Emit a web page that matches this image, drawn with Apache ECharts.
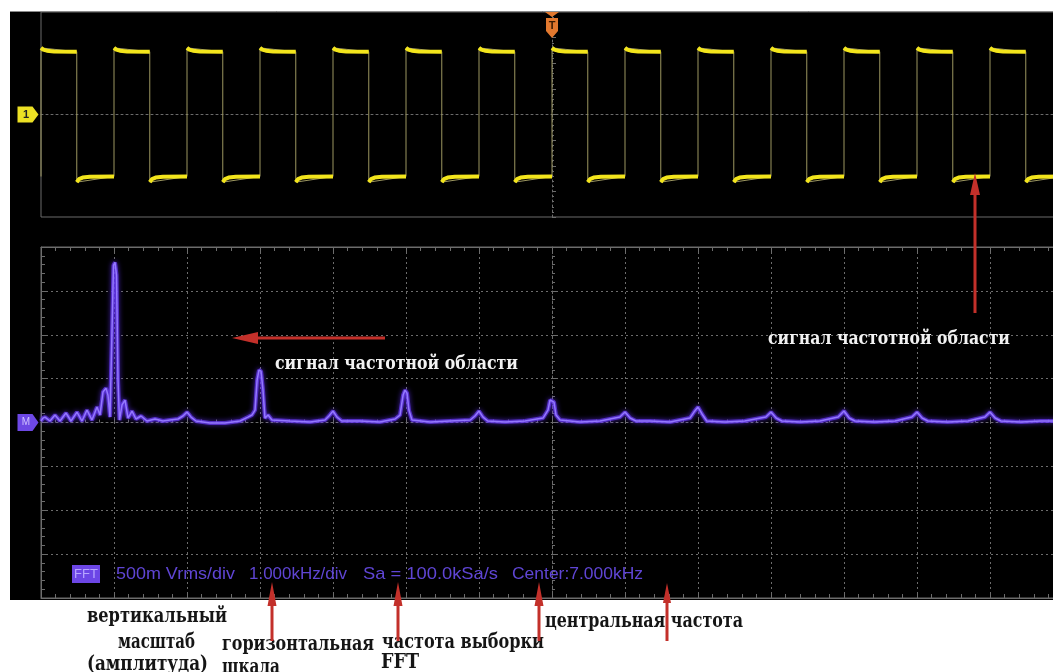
<!DOCTYPE html>
<html>
<head>
<meta charset="utf-8">
<script src="https://cdn.jsdelivr.net/npm/echarts@6/dist/echarts.min.js"></script>
<style>
html,body{margin:0;padding:0;background:#fff;overflow:hidden;}
#chart{width:1075px;height:672px;}
</style>
</head>
<body>
<div id="chart"></div>
<script>
// ---------- DATA ----------
// Channel 1 (time domain), x in divisions (trigger at 0), y in divisions
const risingEdges = [-7, -6, -5, -4, -3, -2, -1, 0, 1, 2, 3, 4, 5, 6, 7];
const fallingEdges = [-6.51, -5.51, -4.51, -3.51, -2.51, -1.51, -0.51, 0.49, 1.49, 2.49, 3.49, 4.49, 5.49, 6.49];
// plateau shape (offset after edge, level)
const highOffsets = [0, 0.03, 0.08, 0.18, 0.49];
const highLevels  = [2.60, 2.53, 2.49, 2.46, 2.45];
const lowOffsets  = [0, 0.03, 0.08, 0.18, 0.51];
const lowLevels   = [-2.64, -2.52, -2.46, -2.43, -2.42];

// FFT trace: frequency (kHz) and magnitude (Vrms)
const fftFreq = [0.000,0.027,0.055,0.123,0.192,0.260,0.342,0.411,0.493,0.562,0.630,0.699,0.767,0.808,0.849,0.890,0.918,0.945,0.973,0.993,1.014,1.034,1.055,1.075,1.110,1.151,1.192,1.247,1.301,1.370,1.452,1.562,1.671,1.767,1.877,1.945,2.000,2.055,2.123,2.315,2.520,2.726,2.836,2.890,2.932,2.960,2.986,3.014,3.041,3.068,3.110,3.164,3.410,3.685,3.890,3.945,4.000,4.055,4.120,4.370,4.640,4.850,4.918,4.960,4.986,5.014,5.040,5.082,5.330,5.600,5.880,5.945,6.000,6.055,6.120,6.356,6.630,6.877,6.945,6.973,7.000,7.027,7.055,7.110,7.384,7.658,7.930,8.000,8.070,8.150,8.340,8.616,8.890,8.945,9.000,9.055,9.120,9.370,9.640,9.930,10.000,10.070,10.150,10.400,10.670,10.920,11.000,11.070,11.150,11.420,11.700,11.930,12.000,12.070,12.150,12.420,12.700,12.930,13.000,13.070,13.150,13.420,13.700,14.000];
const fftMag  = [0.017,0.050,0.062,0.017,0.085,0.017,0.108,0.017,0.119,0.017,0.142,0.028,0.176,0.085,0.347,0.392,0.310,0.062,1.050,1.790,1.824,1.680,0.480,0.028,0.200,0.256,0.050,0.130,0.040,0.074,0.017,0.040,0.017,0.028,0.040,0.074,0.119,0.062,0.017,-0.006,-0.006,0.017,0.062,0.085,0.142,0.480,0.597,0.585,0.370,0.050,0.085,0.028,0.017,0.006,0.028,0.074,0.131,0.062,0.017,0.017,0.006,0.040,0.085,0.312,0.369,0.335,0.142,0.028,0.006,0.017,0.028,0.074,0.131,0.062,0.017,0.006,0.017,0.051,0.142,0.256,0.278,0.233,0.085,0.028,0.006,0.017,0.062,0.119,0.051,0.017,0.017,0.006,0.051,0.119,0.176,0.097,0.017,0.006,0.017,0.062,0.119,0.051,0.017,0.006,0.017,0.062,0.131,0.051,0.017,0.006,0.017,0.062,0.119,0.051,0.017,0.006,0.017,0.062,0.119,0.051,0.017,0.006,0.017,0.017];

// texts
const infoTexts = ['500m Vrms/div', '1.000kHz/div', 'Sa = 100.0kSa/s', 'Center:7.000kHz'];
const signalLabel = 'сигнал частотной области';
const bottomLabels = ['вертикальный', 'масштаб', '(амплитуда)', 'горизонтальная', 'шкала', 'частота выборки', 'FFT', 'центральная частота'];

// ---------- BUILD ----------
const edgeData = [];
const plateauData = [];
for (let i = 0; i < risingEdges.length; i++) {
  const r = risingEdges[i];
  const f = fallingEdges[i];
  const nextR = risingEdges[i + 1];
  edgeData.push([r, lowLevels[lowLevels.length - 1]]);
  edgeData.push([r, highLevels[0]]);
  if (f === undefined) break;
  edgeData.push([f, highLevels[highLevels.length - 1]]);
  edgeData.push([f, lowLevels[0]]);
  for (let k = 0; k < highOffsets.length; k++) plateauData.push([r + highOffsets[k], highLevels[k]]);
  plateauData.push([f, '-']);
  for (let k = 0; k < lowOffsets.length; k++) plateauData.push([f + lowOffsets[k], lowLevels[k]]);
  plateauData.push([nextR, '-']);
}
plateauData.push([7, highLevels[0]]);
const fftData = fftFreq.map((f, i) => [f, fftMag[i]]);

const gridGrey = '#6c6c6c';
const dotted = { color: gridGrey, type: [2, 3], width: 1 };

const chart = echarts.init(document.getElementById('chart'), null, { renderer: 'canvas' });

const hidden = { show: false };
const panelTicks = {
  axisLabel: hidden,
  axisTick: { show: true, inside: true, length: 5, lineStyle: { color: gridGrey } },
  minorTick: { show: true, splitNumber: 5, length: 4, lineStyle: { color: gridGrey } },
  axisLine: { show: true, onZero: false, lineStyle: { color: gridGrey } }
};

const redArrow = '#c3302a';
function vArrow(x, tipY, endY, headLen, headW) {
  return [
    { type: 'line', shape: { x1: x, y1: tipY + headLen - 2, x2: x, y2: endY }, style: { stroke: redArrow, lineWidth: 3 }, z: 100 },
    { type: 'polygon', shape: { points: [[x, tipY], [x - headW / 2, tipY + headLen], [x + headW / 2, tipY + headLen]] }, style: { fill: redArrow }, z: 100 }
  ];
}
const measureCtx = document.createElement('canvas').getContext('2d');
// text placed at (x, y) and stretched horizontally to span `targetWidth`
function label(text, x, y, fill, font, targetWidth, sy) {
  measureCtx.font = font;
  const w = measureCtx.measureText(text).width || targetWidth;
  return { type: 'text', x: x, y: y, scaleX: targetWidth / w, scaleY: sy, z: 60,
    style: { text: text, x: 0, y: 0, fill: fill, font: font, verticalAlign: 'middle' } };
}
const serifBold = 'bold 17px "DejaVu Serif", "Liberation Serif", serif';
const whiteFont = 'bold 15px "DejaVu Serif", "Liberation Serif", serif';
const infoFont = '17px "Liberation Sans", Arial, sans-serif';
const infoColor = '#5f45d4';
const ink = '#151515';

const option = {
  backgroundColor: '#000',
  animation: false,
  grid: [
    { left: 41, top: 12, width: 1022, height: 205, show: true, borderColor: '#6a6a6a', borderWidth: 1, backgroundColor: 'transparent' },
    { left: 41, top: 247, width: 1022, height: 351, show: true, borderColor: '#6a6a6a', borderWidth: 1, backgroundColor: 'transparent' },
    { left: 41, top: 247, width: 1022, height: 351, show: false }
  ],
  xAxis: [
    { gridIndex: 0, type: 'value', min: -7, max: 7, interval: 1,
      axisLabel: hidden, splitLine: hidden,
      axisLine: { show: true, onZero: true, lineStyle: dotted },
      axisTick: { show: false }, minorTick: { show: false } },
    Object.assign({ gridIndex: 1, type: 'value', min: 0, max: 14, interval: 1, position: 'bottom',
      splitLine: { show: true, lineStyle: dotted } }, panelTicks),
    Object.assign({ gridIndex: 1, type: 'value', min: 0, max: 14, interval: 1, position: 'top',
      splitLine: hidden }, panelTicks),
    { gridIndex: 2, type: 'value', min: -7, max: 7, interval: 1,
      axisLabel: hidden, splitLine: hidden,
      axisLine: { show: true, onZero: true, lineStyle: dotted },
      axisTick: { show: true, inside: true, length: 4, lineStyle: { color: gridGrey } },
      minorTick: { show: true, splitNumber: 5, length: 3, lineStyle: { color: gridGrey } } }
  ],
  yAxis: [
    { gridIndex: 0, type: 'value', min: -4, max: 4, interval: 1,
      axisLabel: hidden, splitLine: hidden,
      axisLine: { show: true, onZero: true, lineStyle: dotted },
      axisTick: { show: true, inside: true, length: 4, lineStyle: { color: gridGrey } },
      minorTick: { show: true, splitNumber: 5, length: 2, lineStyle: { color: gridGrey } } },
    Object.assign({ gridIndex: 1, type: 'value', min: -2, max: 2, interval: 0.5, position: 'left',
      splitLine: { show: true, lineStyle: dotted } }, panelTicks),
    { gridIndex: 2, type: 'value', min: -4, max: 4, interval: 1,
      axisLabel: hidden, splitLine: hidden,
      axisLine: { show: true, onZero: true, lineStyle: dotted },
      axisTick: { show: true, inside: true, length: 4, lineStyle: { color: gridGrey } },
      minorTick: { show: true, splitNumber: 5, length: 3, lineStyle: { color: gridGrey } } }
  ],
  series: [
    { type: 'line', xAxisIndex: 0, yAxisIndex: 0, data: edgeData, symbol: 'none', silent: true,
      lineStyle: { color: '#9c9660', width: 1 }, z: 3 },
    { type: 'line', xAxisIndex: 0, yAxisIndex: 0, data: plateauData, symbol: 'none', silent: true,
      connectNulls: false, smooth: false,
      lineStyle: { color: '#f3e51c', width: 4, cap: 'butt' }, z: 4,
      markPoint: {
        silent: true,
        data: [
          { coord: [-7, 0], symbol: 'path://M0,0 L15,0 L21,8 L15,16 L0,16 Z', symbolSize: [21, 16], symbolOffset: [-13, 0],
            itemStyle: { color: '#ece024' },
            label: { show: true, formatter: '1', color: '#222', fontSize: 11, fontWeight: 'bold', offset: [-2, 0] } },
          { coord: [0, 4], symbol: 'path://M0,0 L14,0 L7,5 Z M1,6 L13,6 L13,19 L7,26 L1,19 Z', symbolSize: [14, 26], symbolOffset: [0, 13],
            itemStyle: { color: '#e2782e' },
            label: { show: true, formatter: 'T', color: '#3a1a00', fontSize: 11, fontWeight: 'bold', offset: [0, 1] } }
        ]
      } },
    { type: 'line', xAxisIndex: 1, yAxisIndex: 1, data: fftData, symbol: 'none', silent: true,
      lineStyle: { color: 'rgba(105,60,245,0.7)', width: 4, shadowColor: 'rgba(100,50,255,0.9)', shadowBlur: 5 }, z: 3 },
    { type: 'line', xAxisIndex: 1, yAxisIndex: 1, data: fftData, symbol: 'none', silent: true,
      lineStyle: { color: '#9478ff', width: 1.5 }, z: 4,
      markPoint: {
        silent: true,
        data: [
          { coord: [0, 0], symbol: 'path://M0,0 L15,0 L21,8 L15,16 L0,16 Z', symbolSize: [21, 17], symbolOffset: [-13, 0],
            itemStyle: { color: '#6d48e4' },
            label: { show: true, formatter: 'M', color: '#cfc2ff', fontSize: 10, offset: [-2, 0] } }
        ]
      } }
  ],
  graphic: [
    // white page margins around the scope screen
    { type: 'rect', shape: { x: 0, y: 0, width: 1075, height: 11 }, style: { fill: '#fff' }, z: 50 },
    { type: 'rect', shape: { x: 0, y: 0, width: 10, height: 672 }, style: { fill: '#fff' }, z: 50 },
    { type: 'rect', shape: { x: 0, y: 600, width: 1075, height: 72 }, style: { fill: '#fff' }, z: 50 },
    { type: 'line', shape: { x1: 10, y1: 11.5, x2: 1075, y2: 11.5 }, style: { stroke: '#8a8a8a', lineWidth: 1 }, z: 51 },
    // FFT info line
    { type: 'rect', shape: { x: 72, y: 565, width: 28, height: 18 }, style: { fill: '#6c46e6' }, z: 60 },
    { type: 'text', style: { text: 'FFT', x: 86, y: 574, fill: '#b7a6ff', font: '13px "Liberation Sans", Arial, sans-serif', align: 'center', verticalAlign: 'middle' }, z: 61 },
    label(infoTexts[0], 116, 574, infoColor, infoFont, 119, 1),
    label(infoTexts[1], 249, 574, infoColor, infoFont, 98, 1),
    label(infoTexts[2], 363, 574, infoColor, infoFont, 135, 1),
    label(infoTexts[3], 512, 574, infoColor, infoFont, 131, 1),
    // white annotations
    label(signalLabel, 275, 364, '#f2f2f2', whiteFont, 243, 1.2),
    label(signalLabel, 768, 339, '#f2f2f2', whiteFont, 242, 1.2),
    // horizontal red arrow
    { type: 'line', shape: { x1: 250, y1: 338, x2: 385, y2: 338 }, style: { stroke: redArrow, lineWidth: 3 }, z: 100 },
    { type: 'polygon', shape: { points: [[232, 338], [258, 332], [258, 344]] }, style: { fill: redArrow }, z: 100 },
    // vertical red arrow
    ...vArrow(975, 173, 313, 22, 10),
    // bottom red arrows
    ...vArrow(272, 582, 641, 24, 9),
    ...vArrow(398, 582, 641, 24, 9),
    ...vArrow(539, 582, 641, 24, 9),
    ...vArrow(667, 583, 641, 20, 8),
    // bottom labels
    label(bottomLabels[0], 87, 616, ink, serifBold, 140, 1.25),
    label(bottomLabels[1], 118, 642, ink, serifBold, 77, 1.25),
    label(bottomLabels[2], 87, 664, ink, serifBold, 121, 1.25),
    label(bottomLabels[3], 222, 644, ink, serifBold, 152, 1.25),
    label(bottomLabels[4], 222, 667, ink, serifBold, 58, 1.25),
    label(bottomLabels[5], 382, 642, ink, serifBold, 162, 1.25),
    label(bottomLabels[6], 381, 662, ink, serifBold, 38, 1.25),
    label(bottomLabels[7], 545, 621, ink, serifBold, 198, 1.25)
  ]
};
chart.setOption(option);
</script>
</body>
</html>
